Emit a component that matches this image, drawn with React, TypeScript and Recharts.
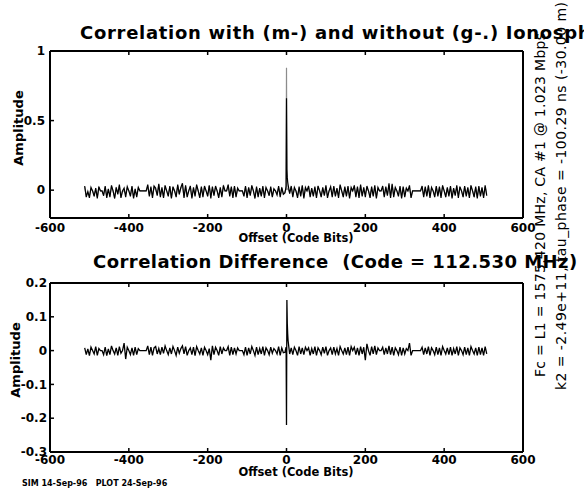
import { LineChart, Line, XAxis, YAxis } from 'recharts';

// code offsets (bits); step 4 away from the peak, single bits around it
const OFFSETS = [
  -512, -508, -504, -500, -496, -492, -488, -484, -480, -476, -472, -468, -464, -460, -456, -452,
  -448, -444, -440, -436, -432, -428, -424, -420, -416, -412, -408, -404, -400, -396, -392, -388,
  -384, -380, -376, -372, -368, -364, -360, -356, -352, -348, -344, -340, -336, -332, -328, -324,
  -320, -316, -312, -308, -304, -300, -296, -292, -288, -284, -280, -276, -272, -268, -264, -260,
  -256, -252, -248, -244, -240, -236, -232, -228, -224, -220, -216, -212, -208, -204, -200, -196,
  -192, -188, -184, -180, -176, -172, -168, -164, -160, -156, -152, -148, -144, -140, -136, -132,
  -128, -124, -120, -116, -112, -108, -104, -100, -96, -92, -88, -84, -80, -76, -72, -68,
  -64, -60, -56, -52, -48, -44, -40, -36, -32, -28, -24, -20, -16, -12, -8, -4,
  -2, -1, 0, 1, 2, 3,
  4, 8, 12, 16, 20, 24, 28, 32, 36, 40, 44, 48, 52, 56, 60, 64,
  68, 72, 76, 80, 84, 88, 92, 96, 100, 104, 108, 112, 116, 120, 124, 128,
  132, 136, 140, 144, 148, 152, 156, 160, 164, 168, 172, 176, 180, 184, 188, 192,
  196, 200, 204, 208, 212, 216, 220, 224, 228, 232, 236, 240, 244, 248, 252, 256,
  260, 264, 268, 272, 276, 280, 284, 288, 292, 296, 300, 304, 308, 312, 316, 320,
  324, 328, 332, 336, 340, 344, 348, 352, 356, 360, 364, 368, 372, 376, 380, 384,
  388, 392, 396, 400, 404, 408, 412, 416, 420, 424, 428, 432, 436, 440, 444, 448,
  452, 456, 460, 464, 468, 472, 476, 480, 484, 488, 492, 496, 500, 504, 508,
];

// correlation with ionosphere (m-), in thousandths
const WITH_IONO = [
  30, -50, -10, -55, 20, -5, -45, 15, -60, 25, -5, -5, -40, 30, -55, 10,
  -50, 35, -5, -60, 20, -30, 40, -55, -5, 15, -50, 25, -5, -45, 30, -60,
  10, -50, 20, -5, -5, -5, -5, -5, 40, -45, 25, -55, 30, 15, -40, 45,
  -50, 20, -55, 35, -5, -45, 30, -60, 25, -5, -50, 40, -30, 20, 50, -55,
  35, -50, -5, 30, -60, 20, -45, 40, -5, -55, 25, -50, 30, -5, -45, 35,
  -60, 25, -40, 30, -5, -55, 20, -50, 35, -5, -5, 40, -45, 25, -55, 30,
  -50, 15, -5, -5, -5, -45, 30, -55, 20, -40, 35, -5, -60, 25, -50, 15,
  -45, 30, -55, 20, -5, -40, 25, -50, 10, -5, -35, 30, -50, 20, -30, -20,
  10, 30, 660, 150, 90, 60,
  40, -25, 30, -50, 20, -5, -55, 25, -45, 35, -60, 20, -5, 30, -50, 15,
  -45, 25, -55, 30, -5, -50, 20, -40, 35, -55, -5, 25, -50, 30, -45, 15,
  -55, 40, -5, -50, 25, -45, 30, -60, 20, -5, 35, -50, 25, -55, 40, -45,
  20, -50, 30, -5, -55, 25, -45, 35, -60, 20, -5, -5, 30, -50, 25, -40,
  50, -55, 45, -50, 20, -5, -45, 30, -60, 25, -50, 15, -5, 35, -55, -5,
  -5, -5, -5, -5, -5, 30, -50, 25, -45, 35, -55, 20, -5, -50, 30, -45,
  25, -55, 35, -5, -50, 20, -45, 30, -60, 15, -40, 35, -55, 25, -5, -50,
  30, -45, 20, -55, 35, -5, -50, 25, -60, 30, -45, 20, -55, 35, -40,
];

// correlation difference (with - without), in thousandths
const IONO_DIFF = [
  8, -12, 5, -15, 10, 0, -10, 12, -14, 6, 0, 0, -12, 10, -15, 5,
  -12, 14, 0, -10, 8, -14, 12, -8, 0, 22, -25, 10, 0, -12, 8, -14,
  10, -12, 6, 0, 0, 0, 0, 0, 14, -12, 10, -14, 8, 12, -10, 6,
  -12, 10, -8, 14, 0, -12, 8, -10, 12, 0, -14, 10, -8, 6, 14, -10,
  12, -14, 0, 8, -12, 10, -15, 12, 0, -10, 8, -14, 10, 0, -12, 6,
  -28, 14, -12, 10, 0, -14, 12, -10, 8, 0, 0, 12, -14, 10, -12, 8,
  -10, 8, 0, 0, 0, -12, 10, -14, 8, -10, 12, 0, -14, 10, -12, 6,
  -10, 12, -14, 8, 0, -12, 10, -8, 6, 0, -10, 12, -14, 8, -6, -5,
  5, 10, -220, 150, 80, 50,
  30, -10, 8, -12, 10, 0, -14, 12, -10, 8, -12, 10, 0, 8, -14, 6,
  -10, 12, -14, 8, 0, -12, 10, -8, 12, -14, 0, 8, -12, 10, -10, 6,
  -14, 12, 0, -10, 8, -12, 10, -14, 12, 0, 10, -12, 8, -14, 12, -10,
  10, -28, 20, 0, -14, 12, -10, 14, -12, 8, 0, 0, 10, -12, 8, -10,
  14, -12, 10, -14, 8, 0, -12, 10, -14, 8, -10, 6, 0, 22, -14, 0,
  0, 0, 0, 0, 0, 10, -12, 8, -10, 12, -14, 8, 0, -12, 10, -12,
  8, -14, 12, 0, -10, 8, -12, 10, -14, 6, -10, 12, -14, 8, 0, -12,
  10, -12, 8, -14, 12, 0, -10, 8, -14, 10, -12, 8, -14, 12, -10,
];

const X_TICKS = [-600, -400, -200, 0, 200, 400, 600];
const TOP_Y_TICKS = [0, 0.5, 1];
const DIFF_Y_TICKS = [-0.3, -0.2, -0.1, 0, 0.1, 0.2];

const TOP_TITLE = 'Correlation with (m-) and without (g-.) Ionosphere';
const DIFF_TITLE = 'Correlation Difference  (Code = 112.530 MHz)';
const SIDE_LINE_1 = 'Fc = L1 = 1575.420 MHz, CA #1 @ 1.023 Mbps';
const SIDE_LINE_2 = 'k2 = -2.49e+11, tau_phase = -100.29 ns (-30.00 m)';
const FOOTER = 'SIM 14-Sep-96   PLOT 24-Sep-96';

const data = OFFSETS.map((offset, i) => ({
  offset,
  withIono: WITH_IONO[i] / 1000,
  withoutIono: (WITH_IONO[i] - IONO_DIFF[i]) / 1000,
  diff: IONO_DIFF[i] / 1000,
}));

const FONT = "'DejaVu Sans', sans-serif";
const axisLine = { stroke: '#000', strokeWidth: 2 };
const tickLine = { stroke: '#000', strokeWidth: 1.5 };
const tickFont = { fill: '#000', fontSize: 12, fontWeight: 'bold', fontFamily: FONT };
// the top and right axes only close the box: tick marks, no labels
const noLabel = () => <g />;

// axes are 1px thick (Recharts skips axes of size 0); margins leave the plot box at
// x 50..523, y 51..218 (top) and y 283..452 (bottom)
export default function App() {
  return (
    <div style={{ position: 'absolute', left: 0, top: 0, width: 584, height: 491, background: '#fff', overflow: 'hidden' }}>
      <div style={{ position: 'absolute', left: 0, top: 0 }}>
        <LineChart width={584} height={250} data={data} margin={{ top: 50, right: 60, bottom: 31, left: 49 }}>
          <XAxis dataKey="offset" type="number" domain={[-600, 600]} ticks={X_TICKS} interval={0}
            height={1} tickSize={-4} tickMargin={9} axisLine={axisLine} tickLine={tickLine} tick={tickFont} />
          <XAxis xAxisId="top" orientation="top" dataKey="offset" type="number" domain={[-600, 600]}
            ticks={X_TICKS} interval={0} height={1} tickSize={-4} axisLine={axisLine} tickLine={tickLine} tick={noLabel} />
          <YAxis type="number" domain={[-0.2, 1]} ticks={TOP_Y_TICKS} interval={0}
            width={1} tickSize={-4} tickMargin={9} axisLine={axisLine} tickLine={tickLine} tick={tickFont} />
          <YAxis yAxisId="right" orientation="right" type="number" domain={[-0.2, 1]} ticks={TOP_Y_TICKS}
            interval={0} width={1} tickSize={-4} axisLine={axisLine} tickLine={tickLine} tick={noLabel} />
          <Line type="linear" dataKey="withoutIono" stroke="#8c8c8c" strokeWidth={1.2}
            dot={false} activeDot={false} isAnimationActive={false} />
          <Line type="linear" dataKey="withIono" stroke="#000" strokeWidth={1.2}
            dot={false} activeDot={false} isAnimationActive={false} />
        </LineChart>
      </div>
      <div style={{ position: 'absolute', left: 0, top: 250 }}>
        <LineChart width={584} height={241} data={data} margin={{ top: 32, right: 60, bottom: 38, left: 49 }}>
          <XAxis dataKey="offset" type="number" domain={[-600, 600]} ticks={X_TICKS} interval={0}
            height={1} tickSize={-4} tickMargin={7} axisLine={axisLine} tickLine={tickLine} tick={tickFont} />
          <XAxis xAxisId="top" orientation="top" dataKey="offset" type="number" domain={[-600, 600]}
            ticks={X_TICKS} interval={0} height={1} tickSize={-4} axisLine={axisLine} tickLine={tickLine} tick={noLabel} />
          <YAxis type="number" domain={[-0.3, 0.2]} ticks={DIFF_Y_TICKS} interval={0}
            width={1} tickSize={-4} tickMargin={7} axisLine={axisLine} tickLine={tickLine} tick={tickFont} />
          <YAxis yAxisId="right" orientation="right" type="number" domain={[-0.3, 0.2]} ticks={DIFF_Y_TICKS}
            interval={0} width={1} tickSize={-4} axisLine={axisLine} tickLine={tickLine} tick={noLabel} />
          <Line type="linear" dataKey="diff" stroke="#000" strokeWidth={1.3}
            dot={false} activeDot={false} isAnimationActive={false} />
        </LineChart>
      </div>
      <svg width={584} height={491} style={{ position: 'absolute', left: 0, top: 0, pointerEvents: 'none' }}
        fontFamily={FONT} fill="#000">
        <text x={80} y={39} fontSize={18} fontWeight="bold" letterSpacing={0.7}>{TOP_TITLE}</text>
        <text x={93} y={268} fontSize={18} fontWeight="bold" letterSpacing={0.45}
          style={{ whiteSpace: 'pre' }}>{DIFF_TITLE}</text>
        <text x={23} y={128} fontSize={13} fontWeight="bold" textAnchor="middle"
          transform="rotate(-90 23 128)">Amplitude</text>
        <text x={20} y={360} fontSize={13} fontWeight="bold" textAnchor="middle"
          transform="rotate(-90 20 360)">Amplitude</text>
        <text x={296} y={242} fontSize={11.5} fontWeight="bold" textAnchor="middle">Offset (Code Bits)</text>
        <text x={296} y={476} fontSize={11.5} fontWeight="bold" textAnchor="middle">Offset (Code Bits)</text>
        <text x={545} y={377} fontSize={14} textLength={344}
          transform="rotate(-90 545 377)">{SIDE_LINE_1}</text>
        <text x={566} y={390} fontSize={14} textLength={388}
          transform="rotate(-90 566 390)">{SIDE_LINE_2}</text>
        <text x={22} y={486} fontSize={8} fontWeight="bold" style={{ whiteSpace: 'pre' }}>{FOOTER}</text>
      </svg>
    </div>
  );
}
